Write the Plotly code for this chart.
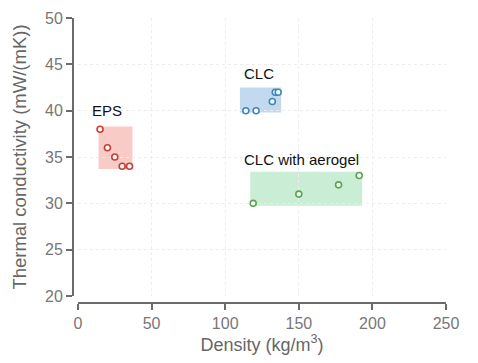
import plotly.graph_objects as go

# Data
eps_density = [15, 20, 25, 30, 35]
eps_tc = [38, 36, 35, 34, 34]
clc_density = [114, 121, 132, 134, 136]
clc_tc = [40, 40, 41, 42, 42]
aero_density = [119, 150, 177, 191]
aero_tc = [30, 31, 32, 33]

group_names = ["EPS", "CLC", "CLC with aerogel"]
box_x0 = [14, 110, 117]
box_x1 = [37, 138, 193]
box_y0 = [33.7, 39.8, 29.75]
box_y1 = [38.3, 42.5, 33.4]
label_x = [8, 111.5, 111.5]
label_y = [38.9, 42.9, 33.65]

x_ticks = [0, 50, 100, 150, 200, 250]
y_ticks = [20, 25, 30, 35, 40, 45, 50]

line_colors = ["#cc3b30", "#3c86bf", "#55a845"]
fill_colors = ["rgba(240,140,130,0.45)", "rgba(120,170,220,0.45)", "rgba(120,210,150,0.40)"]
FONT = "Liberation Sans, Arial, sans-serif"

fig = go.Figure()

series = [(eps_density, eps_tc), (clc_density, clc_tc), (aero_density, aero_tc)]
for i, (xs, ys) in enumerate(series):
    fig.add_shape(type="rect", xref="x", yref="y",
                  x0=box_x0[i], x1=box_x1[i], y0=box_y0[i], y1=box_y1[i],
                  fillcolor=fill_colors[i], line=dict(width=0), layer="below")
    fig.add_trace(go.Scatter(x=xs, y=ys, mode="markers", name=group_names[i],
                             marker=dict(symbol="circle", size=6, color="white",
                                         line=dict(color=line_colors[i], width=1.6)),
                             showlegend=False, cliponaxis=False))
    fig.add_annotation(x=label_x[i], y=label_y[i], xref="x", yref="y",
                       text=group_names[i], showarrow=False, xanchor="left",
                       yanchor="bottom",
                       font=dict(size=15, color="#111111", family=FONT))

axis_common = dict(
    showline=True, linecolor="#6b6b6b", linewidth=2,
    ticks="outside", ticklen=6, tickwidth=2, tickcolor="#6b6b6b",
    tickfont=dict(size=16, color="#777777", family=FONT),
    showgrid=True, gridcolor="#ededed", griddash="dot", gridwidth=1,
    zeroline=False, automargin=False,
)

fig.update_layout(
    width=478, height=363,
    margin=dict(l=33, r=27, t=2, b=38),
    paper_bgcolor="white", plot_bgcolor="white",
    xaxis=dict(range=[0, 250], tickvals=x_ticks, domain=[0.0885, 0.969],
               anchor="free", position=0.093,
               title=dict(text="Density (kg/m<sup>3</sup>)", standoff=4,
                          font=dict(size=18, color="#666666", family=FONT)),
               **axis_common),
    yaxis=dict(range=[20, 50], tickvals=y_ticks, domain=[0.1146, 0.975],
               anchor="free", position=0.0766,
               title=dict(text="Thermal conductivity (mW/(mK))", standoff=13,
                          font=dict(size=18.5, color="#666666", family=FONT)),
               **axis_common),
)

fig.write_html("out.html")
